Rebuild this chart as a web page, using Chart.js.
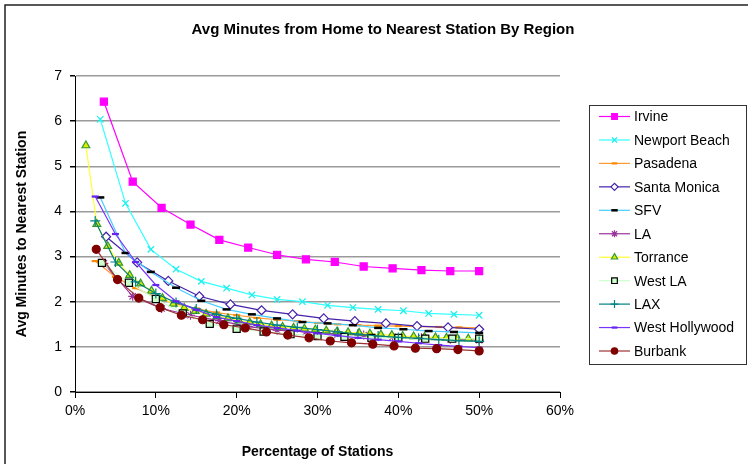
<!DOCTYPE html>
<html>
<head>
<meta charset="utf-8">
<script src="https://cdn.jsdelivr.net/npm/chart.js@4"></script>
<style>
  html, body { margin: 0; padding: 0; background: #fff; }
  #wrap { width: 748px; height: 464px; position: relative; }
</style>
</head>
<body>
<div id="wrap"><canvas id="c" width="748" height="464"></canvas></div>
<script>
// Average minutes from home to the nearest station, by share of stations placed
const regions = ['Irvine', 'Newport Beach', 'Pasadena', 'Santa Monica', 'SFV', 'LA',
                 'Torrance', 'West LA', 'LAX', 'West Hollywood', 'Burbank'];

const irvineX = [3.57, 7.14, 10.71, 14.29, 17.86, 21.43, 25, 28.57, 32.14, 35.71, 39.29, 42.86, 46.43, 50];
const irvineY = [6.43, 4.66, 4.08, 3.71, 3.37, 3.20, 3.04, 2.94, 2.88, 2.78, 2.74, 2.70, 2.68, 2.68];

const newportX = [3.13, 6.25, 9.38, 12.5, 15.63, 18.75, 21.88, 25, 28.13, 31.25, 34.38, 37.5, 40.63, 43.75, 46.88, 50];
const newportY = [6.04, 4.18, 3.16, 2.72, 2.45, 2.30, 2.15, 2.05, 2.00, 1.92, 1.87, 1.83, 1.80, 1.74, 1.72, 1.70];

const pasadenaX = [2.5, 5, 7.5, 10, 12.5, 15, 17.5, 20, 22.5, 25, 27.5, 30, 32.5, 35, 37.5, 40, 42.5, 45, 47.5, 50];
const pasadenaY = [2.90, 2.55, 2.30, 2.10, 1.95, 1.85, 1.76, 1.70, 1.64, 1.60, 1.57, 1.53, 1.50, 1.48, 1.47, 1.46, 1.45, 1.44, 1.43, 1.42];

const santaMonicaX = [3.85, 7.69, 11.54, 15.38, 19.23, 23.08, 26.92, 30.77, 34.62, 38.46, 42.31, 46.15, 50];
const santaMonicaY = [3.44, 2.87, 2.46, 2.12, 1.94, 1.81, 1.72, 1.63, 1.57, 1.52, 1.46, 1.43, 1.39];

const sfvX = [3.13, 6.25, 9.38, 12.5, 15.63, 18.75, 21.88, 25, 28.13, 31.25, 34.38, 37.5, 40.63, 43.75, 46.88, 50];
const sfvY = [4.31, 3.08, 2.66, 2.31, 2.02, 1.83, 1.72, 1.63, 1.55, 1.52, 1.48, 1.42, 1.39, 1.35, 1.33, 1.31];

const laX = [3.57, 7.14, 10.71, 14.29, 17.86, 21.43, 25, 28.57, 32.14, 35.71, 39.29, 42.86, 46.43, 50];
const laY = [2.85, 2.12, 1.85, 1.70, 1.58, 1.45, 1.37, 1.33, 1.29, 1.26, 1.22, 1.20, 1.17, 1.15];

const torranceX = [1.35, 2.70, 4.05, 5.41, 6.76, 8.11, 9.46, 10.81, 12.16, 13.51, 14.86, 16.22, 17.57,
                   18.92, 20.27, 21.62, 22.97, 24.32, 25.68, 27.03, 28.38, 29.73, 31.08, 32.43, 33.78,
                   35.14, 36.49, 37.84, 39.19, 40.54, 41.89, 43.24, 44.59, 45.95, 47.30, 48.65, 50];
const torranceY = [5.46, 3.72, 3.23, 2.86, 2.59, 2.40, 2.24, 2.08, 1.95, 1.86, 1.79, 1.73, 1.68,
                   1.63, 1.58, 1.54, 1.50, 1.47, 1.44, 1.42, 1.40, 1.38, 1.36, 1.34, 1.32,
                   1.31, 1.29, 1.27, 1.26, 1.24, 1.23, 1.22, 1.21, 1.20, 1.19, 1.18, 1.17];

const westLaX = [3.33, 6.67, 10, 13.33, 16.67, 20, 23.33, 26.67, 30, 33.33, 36.67, 40, 43.33, 46.67, 50];
const westLaY = [2.86, 2.42, 2.06, 1.74, 1.51, 1.40, 1.34, 1.28, 1.24, 1.22, 1.20, 1.20, 1.18, 1.18, 1.18];

const laxX = [2.5, 5, 7.5, 10, 12.5, 15, 17.5, 20, 22.5, 25, 27.5, 30, 32.5, 35, 37.5, 40, 42.5, 45, 47.5, 50];
const laxY = [3.79, 2.88, 2.44, 2.18, 1.98, 1.84, 1.72, 1.63, 1.55, 1.48, 1.43, 1.38, 1.33, 1.28, 1.24, 1.21, 1.19, 1.16, 1.14, 1.12];

const westHollywoodX = [2.5, 5, 7.5, 10, 12.5, 15, 17.5, 20, 22.5, 25, 27.5, 30, 32.5, 35, 37.5, 40, 42.5, 45, 47.5, 50];
const westHollywoodY = [4.33, 3.50, 2.88, 2.37, 2.01, 1.82, 1.66, 1.57, 1.48, 1.42, 1.36, 1.30, 1.25, 1.20, 1.16, 1.12, 1.08, 1.04, 1.01, 0.98];

const burbankX = [2.63, 5.26, 7.89, 10.53, 13.16, 15.79, 18.42, 21.05, 23.68, 26.32, 28.95, 31.58, 34.21, 36.84, 39.47, 42.11, 44.74, 47.37, 50];
const burbankY = [3.16, 2.49, 2.08, 1.87, 1.70, 1.60, 1.49, 1.42, 1.33, 1.26, 1.20, 1.13, 1.09, 1.06, 1.02, 0.97, 0.96, 0.94, 0.91];

const xTicks = [0, 10, 20, 30, 40, 50, 60];
const yTicks = [0, 1, 2, 3, 4, 5, 6, 7];

const seriesX = [irvineX, newportX, pasadenaX, santaMonicaX, sfvX, laX, torranceX, westLaX, laxX, westHollywoodX, burbankX];
const seriesY = [irvineY, newportY, pasadenaY, santaMonicaY, sfvY, laY, torranceY, westLaY, laxY, westHollywoodY, burbankY];

// line colour, marker style, marker fill, marker border, marker radius, marker stroke width
const styles = [
  { line: '#FF00FF', point: 'rect',     fill: '#FF00FF', border: '#FF00FF', r: 5,   w: 1.2 },
  { line: '#33FFFF', point: 'crossRot', fill: '#33FFFF', border: '#22EEEE', r: 4.5, w: 1.3 },
  { line: '#FF9933', point: 'line',     fill: '#FF8800', border: '#FF8800', r: 3.5, w: 2.2 },
  { line: '#4422AA', point: 'rectRot',  fill: '#FFFFFF', border: '#4422AA', r: 4.5, w: 1.2 },
  { line: '#44CCFF', point: 'line',     fill: '#000000', border: '#000000', r: 4,   w: 2.5 },
  { line: '#993399', point: 'star',     fill: '#993399', border: '#993399', r: 4.5, w: 1.2 },
  { line: '#FFFF33', point: 'triangle', fill: '#DDEE00', border: '#339933', r: 4.5, w: 1.2 },
  { line: '#CCFFCC', point: 'rect',     fill: '#CCFFCC', border: '#000000', r: 5,   w: 1.2 },
  { line: '#008080', point: 'cross',    fill: '#008080', border: '#008080', r: 5,   w: 1.2 },
  { line: '#7733FF', point: 'line',     fill: '#6622EE', border: '#6622EE', r: 3.5, w: 2.2 },
  { line: '#993333', point: 'circle',   fill: '#800000', border: '#800000', r: 4,   w: 1.2 }
];

const FONT = "'Liberation Sans', Arial, sans-serif";

const datasets = regions.map((name, i) => ({
  label: name,
  data: seriesX[i].map((x, j) => ({ x: x, y: seriesY[i][j] })),
  showLine: true,
  borderColor: styles[i].line,
  borderWidth: 1.2,
  pointStyle: styles[i].point,
  pointRadius: styles[i].r,
  pointBackgroundColor: styles[i].fill,
  pointBorderColor: styles[i].border,
  pointBorderWidth: styles[i].w,
  pointHoverRadius: styles[i].r,
  order: regions.length - i
}));

// Title, axis titles, legend and outer frame
const decorations = {
  id: 'decorations',
  beforeDraw(chart) {
    const ctx = chart.ctx;
    ctx.save();
    ctx.fillStyle = '#fff';
    ctx.fillRect(0, 0, chart.width, chart.height);
    ctx.restore();
  },
  afterDraw(chart) {
    const ctx = chart.ctx;
    const area = chart.chartArea;
    ctx.save();

    // frame
    ctx.strokeStyle = '#222';
    ctx.lineWidth = 1.5;
    ctx.beginPath();
    ctx.moveTo(5, chart.height);
    ctx.lineTo(5, 5);
    ctx.lineTo(chart.width, 5);
    ctx.stroke();

    // chart title
    ctx.fillStyle = '#000';
    ctx.textAlign = 'center';
    ctx.textBaseline = 'middle';
    ctx.font = 'bold 15px ' + FONT;
    ctx.fillText('Avg Minutes from Home to Nearest Station By Region', 383, 30);

    // axis titles
    ctx.font = 'bold 14px ' + FONT;
    ctx.fillText('Percentage of Stations', (area.left + area.right) / 2, 452);
    ctx.save();
    ctx.translate(22, (area.top + area.bottom) / 2);
    ctx.rotate(-Math.PI / 2);
    ctx.fillText('Avg Minutes to Nearest Station', 0, 0);
    ctx.restore();

    // legend
    const lx = 589.5, ly = 105.5, lw = 157, lh = 259;
    ctx.strokeStyle = '#333';
    ctx.lineWidth = 1;
    ctx.strokeRect(lx, ly, lw, lh);
    ctx.font = '14px ' + FONT;
    ctx.textAlign = 'left';
    regions.forEach((name, i) => {
      const s = styles[i];
      const y = 116.5 + i * 23.45;
      ctx.strokeStyle = s.line;
      ctx.lineWidth = 1.2;
      ctx.beginPath();
      ctx.moveTo(599, y);
      ctx.lineTo(630, y);
      ctx.stroke();
      ctx.fillStyle = s.fill;
      ctx.strokeStyle = s.border;
      ctx.lineWidth = s.w;
      Chart.helpers.drawPoint(ctx, { pointStyle: s.point, radius: s.r * 0.8, rotation: 0, borderWidth: s.w }, 614.5, y);
      ctx.fillStyle = '#000';
      ctx.fillText(name, 634, y + 1);
    });
    ctx.restore();
  }
};

new Chart(document.getElementById('c'), {
  type: 'scatter',
  data: { datasets: datasets },
  options: {
    responsive: false,
    animation: false,
    events: [],
    layout: { padding: { left: 0, top: 76, right: 188, bottom: 0 } },
    plugins: { legend: { display: false }, title: { display: false }, tooltip: { enabled: false } },
    scales: {
      x: {
        type: 'linear',
        min: xTicks[0],
        max: xTicks[xTicks.length - 1],
        afterBuildTicks(scale) { scale.ticks = xTicks.map(v => ({ value: v })); },
        afterFit(scale) { scale.height = 72; },
        ticks: {
          callback: v => v + '%',
          color: '#000',
          font: { family: FONT, size: 14 },
          padding: 5,
          maxRotation: 0
        },
        grid: { drawOnChartArea: false, tickLength: 6, tickColor: '#000', lineWidth: 1 },
        border: { color: '#000', width: 1 }
      },
      y: {
        min: yTicks[0],
        max: yTicks[yTicks.length - 1],
        afterBuildTicks(scale) { scale.ticks = yTicks.map(v => ({ value: v })); },
        afterFit(scale) { scale.width = 75; },
        ticks: {
          color: '#000',
          font: { family: FONT, size: 14 },
          padding: 8
        },
        grid: { color: '#9a9a9a', tickColor: '#000', tickLength: 5, lineWidth: 1.5 },
        border: { color: '#000', width: 1 }
      }
    }
  },
  plugins: [decorations]
});
</script>
</body>
</html>
